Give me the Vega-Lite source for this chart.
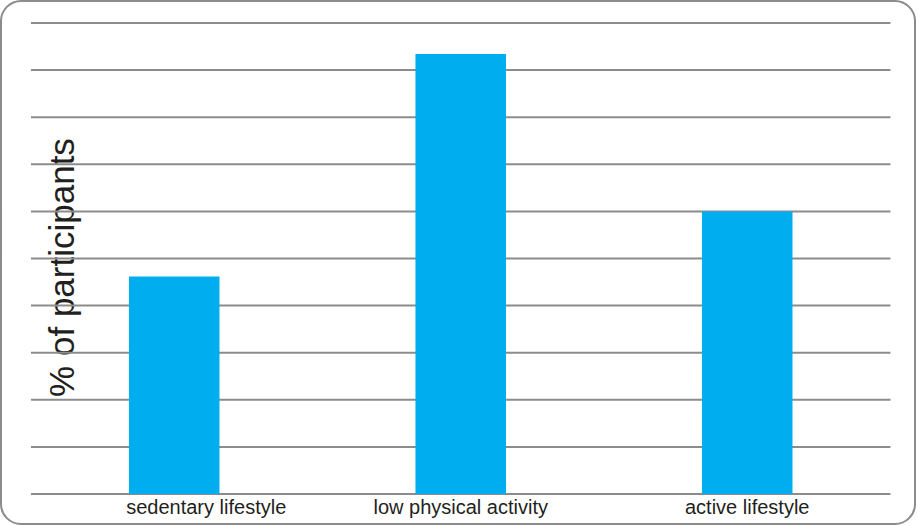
{
  "$schema": "https://vega.github.io/schema/vega-lite/v6.json",
  "autosize": "none",
  "padding": {"left": 1, "top": 1, "right": 2, "bottom": 2},
  "width": 914,
  "height": 523,
  "background": "#ffffff",
  "config": {
    "view": {"stroke": "#8c8c8c", "strokeWidth": 2, "cornerRadius": 20},
    "font": "Liberation Sans",
    "axisX": {
      "title": null,
      "orient": "bottom",
      "offset": -30,
      "bandPosition": 0.5,
      "domain": false,
      "ticks": false,
      "grid": false,
      "labelAngle": 0,
      "labelFontSize": 20,
      "labelColor": "#231f20",
      "labelPadding": 3
    },
    "axisY": {
      "titleFontSize": 35,
      "titleFontWeight": "normal",
      "titleColor": "#231f20",
      "titleAngle": 270,
      "titleX": 61,
      "titleY": 266,
      "titleAlign": "center",
      "titleBaseline": "middle",
      "labels": false,
      "ticks": false,
      "domain": false,
      "grid": false
    }
  },
  "datasets": {
    "bars": [
      {"category": "sedentary lifestyle", "percent": 23.1},
      {"category": "low physical activity", "percent": 46.7},
      {"category": "active lifestyle", "percent": 30.0}
    ],
    "grid": [
      {"v": 0}, {"v": 5}, {"v": 10}, {"v": 15}, {"v": 20}, {"v": 25},
      {"v": 30}, {"v": 35}, {"v": 40}, {"v": 45}, {"v": 50}
    ]
  },
  "layer": [
    {
      "data": {"name": "grid"},
      "mark": {"type": "rule", "stroke": "#8c8c8c", "strokeWidth": 2},
      "encoding": {
        "y": {"field": "v", "type": "quantitative", "title": "% of participants"},
        "x": {"datum": "sedentary lifestyle", "type": "nominal", "bandPosition": 0, "title": null,
          "axis": {"labelOffset": {"condition": {"test": "datum.value === 'sedentary lifestyle'", "value": 32}, "value": 0}}},
        "x2": {"datum": "active lifestyle", "bandPosition": 1}
      }
    },
    {
      "data": {"name": "bars"},
      "mark": {"type": "bar", "color": "#00aeef", "width": {"band": 0.316}},
      "encoding": {
        "x": {
          "field": "category",
          "type": "nominal",
          "sort": null,
          "title": null,
          "scale": {
            "domain": ["sedentary lifestyle", "low physical activity", "active lifestyle"],
            "paddingInner": 0,
            "paddingOuter": 0.0951,
            "align": 0.55
          },
          "axis": {"labelOffset": {"condition": {"test": "datum.value === 'sedentary lifestyle'", "value": 32}, "value": 0}}
        },
        "y": {
          "field": "percent",
          "type": "quantitative",
          "title": "% of participants",
          "scale": {"domain": [-3.185, 52.335], "nice": false, "zero": false}
        },
        "y2": {"datum": 0}
      }
    }
  ]
}
